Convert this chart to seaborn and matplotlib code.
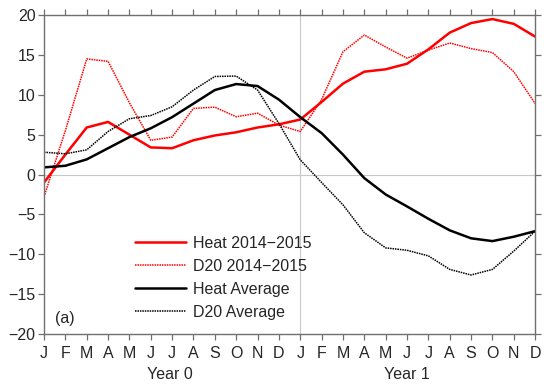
import numpy as np
import pandas as pd
import matplotlib
matplotlib.use("Agg")
import matplotlib.pyplot as plt
import seaborn as sns

# ---- data ----
months = ["J", "F", "M", "A", "M", "J", "J", "A", "S", "O", "N", "D"] * 2
heat_1415 = [-1.0, 2.5, 5.9, 6.6, 5.0, 3.4, 3.3, 4.3, 4.9, 5.3, 5.9, 6.3,
             6.9, 9.1, 11.4, 12.9, 13.2, 13.9, 15.7, 17.8, 19.0, 19.5, 18.9, 17.3]
d20_1415 = [-2.8, 5.5, 14.5, 14.2, 9.0, 4.3, 4.7, 8.3, 8.45, 7.25, 7.7, 6.2,
            5.4, 9.4, 15.4, 17.5, 16.0, 14.6, 15.6, 16.5, 15.8, 15.3, 12.9, 8.9]
heat_avg = [0.9, 1.1, 1.9, 3.3, 4.7, 5.8, 7.2, 8.9, 10.6, 11.35, 11.1, 9.4,
            7.2, 5.2, 2.5, -0.45, -2.5, -4.0, -5.55, -7.0, -8.0, -8.35, -7.8, -7.1]
d20_avg = [2.8, 2.6, 3.1, 5.4, 7.0, 7.4, 8.5, 10.6, 12.3, 12.35, 10.6, 6.4,
           1.85, -1.0, -3.8, -7.3, -9.2, -9.5, -10.2, -11.9, -12.6, -11.9, -9.6, -7.1]

x = np.arange(len(months))
df = pd.DataFrame({"x": x, "heat_1415": heat_1415, "d20_1415": d20_1415,
                   "heat_avg": heat_avg, "d20_avg": d20_avg})

sns.set_style("ticks")
plt.rcParams["font.family"] = ["Liberation Sans", "DejaVu Sans"]
plt.rcParams["axes.unicode_minus"] = True

fig = plt.figure(figsize=(5.5, 3.87), dpi=100)
ax = fig.add_axes([0.08, 0.137, 0.893, 0.824])

ax.axhline(0, color="#c8c8c8", lw=0.8, zorder=0)
ax.axvline(12, color="#c8c8c8", lw=0.8, zorder=0)

dot = (0, (1, 0.6))
sns.lineplot(data=df, x="x", y="heat_1415", ax=ax, color="#ff0000", lw=1.8,
             label="Heat 2014\u22122015")
sns.lineplot(data=df, x="x", y="d20_1415", ax=ax, color="#ff0000", lw=1.1,
             linestyle=dot, label="D20 2014\u22122015")
sns.lineplot(data=df, x="x", y="heat_avg", ax=ax, color="black", lw=1.8,
             label="Heat Average")
sns.lineplot(data=df, x="x", y="d20_avg", ax=ax, color="black", lw=1.1,
             linestyle=dot, label="D20 Average")

ax.set_xlim(0, 23)
ax.set_ylim(-20, 20)
ax.set_xticks(x)
ax.set_xticklabels(months)
ax.set_yticks(np.arange(-20, 21, 5))
ax.set_xlabel("")
ax.set_ylabel("")

for s in ax.spines.values():
    s.set_visible(True)
    s.set_color("#707070")
    s.set_linewidth(1.0)
ax.tick_params(axis="both", direction="out", length=4, width=0.9, color="#707070",
               labelsize=11.5, top=True, right=True, labeltop=False, labelright=False,
               pad=2)
ax.tick_params(axis="x", pad=5)

ax.text(5.9, -25.1, "Year 0", ha="center", va="center", fontsize=11.5)
ax.text(17.0, -25.1, "Year 1", ha="center", va="center", fontsize=11.5)
ax.text(0.5, -18.1, "(a)", ha="left", va="center", fontsize=11.5)

ax.legend(loc="lower left", bbox_to_anchor=(0.173, 0.025), frameon=False,
          fontsize=11.5, handlelength=3.2, handletextpad=0.4, labelspacing=0.5,
          borderaxespad=0)

fig.savefig("out.png", dpi=100)
